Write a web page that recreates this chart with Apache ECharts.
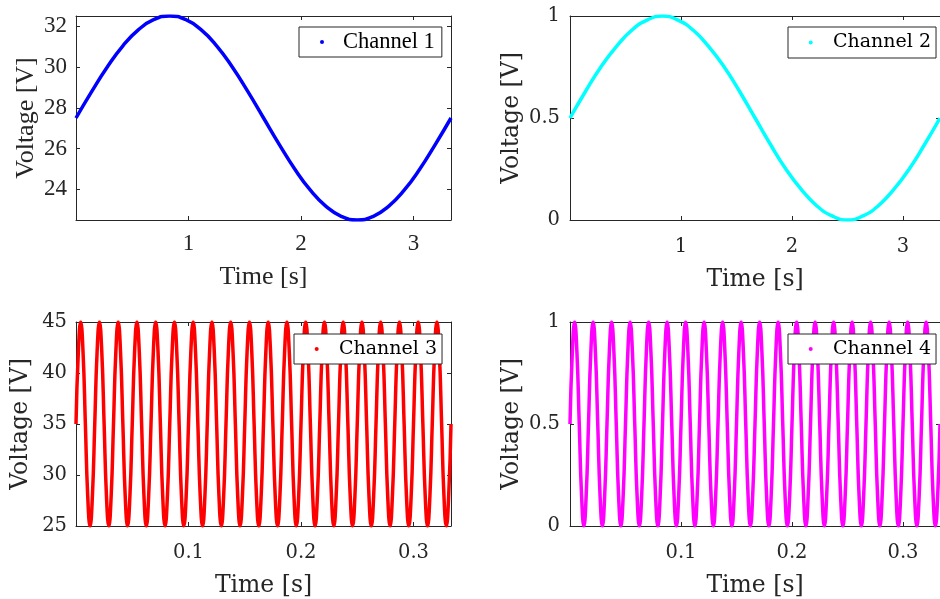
<!DOCTYPE html>
<html>
<head>
<meta charset="utf-8">
<script src="https://cdn.jsdelivr.net/npm/echarts@6/dist/echarts.min.js"></script>
<style>
html,body{margin:0;padding:0;background:#fff;}
#chart{width:940px;height:599px;}
</style>
</head>
<body>
<div id="chart"></div>
<script>
// ---------- data ----------
const seriesNames = ['Channel 1', 'Channel 2', 'Channel 3', 'Channel 4'];

const timeSlow = [0, 0.139, 0.278, 0.417, 0.556, 0.694, 0.833, 0.972, 1.111, 1.25, 1.389, 1.528,
  1.667, 1.806, 1.944, 2.083, 2.222, 2.361, 2.5, 2.639, 2.778, 2.917, 3.056, 3.194, 3.333];

const ch1 = [27.5, 28.79, 30.0, 31.04, 31.83, 32.33, 32.5, 32.33, 31.83, 31.04, 30.0, 28.79,
  27.5, 26.21, 25.0, 23.96, 23.17, 22.67, 22.5, 22.67, 23.17, 23.96, 25.0, 26.21, 27.5];

const ch2 = [0.5, 0.63, 0.75, 0.85, 0.93, 0.98, 1.0, 0.98, 0.93, 0.85, 0.75, 0.63,
  0.5, 0.37, 0.25, 0.15, 0.07, 0.02, 0.0, 0.02, 0.07, 0.15, 0.25, 0.37, 0.5];

const timeFast = [
  0, 0.00208, 0.00417, 0.00625, 0.00833, 0.01042, 0.0125, 0.01458,
  0.01667, 0.01875, 0.02083, 0.02292, 0.025, 0.02708, 0.02917, 0.03125,
  0.03333, 0.03542, 0.0375, 0.03958, 0.04167, 0.04375, 0.04583, 0.04792,
  0.05, 0.05208, 0.05417, 0.05625, 0.05833, 0.06042, 0.0625, 0.06458,
  0.06667, 0.06875, 0.07083, 0.07292, 0.075, 0.07708, 0.07917, 0.08125,
  0.08333, 0.08542, 0.0875, 0.08958, 0.09167, 0.09375, 0.09583, 0.09792,
  0.1, 0.10208, 0.10417, 0.10625, 0.10833, 0.11042, 0.1125, 0.11458,
  0.11667, 0.11875, 0.12083, 0.12292, 0.125, 0.12708, 0.12917, 0.13125,
  0.13333, 0.13542, 0.1375, 0.13958, 0.14167, 0.14375, 0.14583, 0.14792,
  0.15, 0.15208, 0.15417, 0.15625, 0.15833, 0.16042, 0.1625, 0.16458,
  0.16667, 0.16875, 0.17083, 0.17292, 0.175, 0.17708, 0.17917, 0.18125,
  0.18333, 0.18542, 0.1875, 0.18958, 0.19167, 0.19375, 0.19583, 0.19792,
  0.2, 0.20208, 0.20417, 0.20625, 0.20833, 0.21042, 0.2125, 0.21458,
  0.21667, 0.21875, 0.22083, 0.22292, 0.225, 0.22708, 0.22917, 0.23125,
  0.23333, 0.23542, 0.2375, 0.23958, 0.24167, 0.24375, 0.24583, 0.24792,
  0.25, 0.25208, 0.25417, 0.25625, 0.25833, 0.26042, 0.2625, 0.26458,
  0.26667, 0.26875, 0.27083, 0.27292, 0.275, 0.27708, 0.27917, 0.28125,
  0.28333, 0.28542, 0.2875, 0.28958, 0.29167, 0.29375, 0.29583, 0.29792,
  0.3, 0.30208, 0.30417, 0.30625, 0.30833, 0.31042, 0.3125, 0.31458,
  0.31667, 0.31875, 0.32083, 0.32292, 0.325, 0.32708, 0.32917, 0.33125,
  0.33333];

const ch3 = [
  35, 42.07, 45, 42.07, 35, 27.93, 25, 27.93,
  35, 42.07, 45, 42.07, 35, 27.93, 25, 27.93,
  35, 42.07, 45, 42.07, 35, 27.93, 25, 27.93,
  35, 42.07, 45, 42.07, 35, 27.93, 25, 27.93,
  35, 42.07, 45, 42.07, 35, 27.93, 25, 27.93,
  35, 42.07, 45, 42.07, 35, 27.93, 25, 27.93,
  35, 42.07, 45, 42.07, 35, 27.93, 25, 27.93,
  35, 42.07, 45, 42.07, 35, 27.93, 25, 27.93,
  35, 42.07, 45, 42.07, 35, 27.93, 25, 27.93,
  35, 42.07, 45, 42.07, 35, 27.93, 25, 27.93,
  35, 42.07, 45, 42.07, 35, 27.93, 25, 27.93,
  35, 42.07, 45, 42.07, 35, 27.93, 25, 27.93,
  35, 42.07, 45, 42.07, 35, 27.93, 25, 27.93,
  35, 42.07, 45, 42.07, 35, 27.93, 25, 27.93,
  35, 42.07, 45, 42.07, 35, 27.93, 25, 27.93,
  35, 42.07, 45, 42.07, 35, 27.93, 25, 27.93,
  35, 42.07, 45, 42.07, 35, 27.93, 25, 27.93,
  35, 42.07, 45, 42.07, 35, 27.93, 25, 27.93,
  35, 42.07, 45, 42.07, 35, 27.93, 25, 27.93,
  35, 42.07, 45, 42.07, 35, 27.93, 25, 27.93,
  35];

const ch4 = [
  0.5, 0.85, 1, 0.85, 0.5, 0.15, 0, 0.15,
  0.5, 0.85, 1, 0.85, 0.5, 0.15, 0, 0.15,
  0.5, 0.85, 1, 0.85, 0.5, 0.15, 0, 0.15,
  0.5, 0.85, 1, 0.85, 0.5, 0.15, 0, 0.15,
  0.5, 0.85, 1, 0.85, 0.5, 0.15, 0, 0.15,
  0.5, 0.85, 1, 0.85, 0.5, 0.15, 0, 0.15,
  0.5, 0.85, 1, 0.85, 0.5, 0.15, 0, 0.15,
  0.5, 0.85, 1, 0.85, 0.5, 0.15, 0, 0.15,
  0.5, 0.85, 1, 0.85, 0.5, 0.15, 0, 0.15,
  0.5, 0.85, 1, 0.85, 0.5, 0.15, 0, 0.15,
  0.5, 0.85, 1, 0.85, 0.5, 0.15, 0, 0.15,
  0.5, 0.85, 1, 0.85, 0.5, 0.15, 0, 0.15,
  0.5, 0.85, 1, 0.85, 0.5, 0.15, 0, 0.15,
  0.5, 0.85, 1, 0.85, 0.5, 0.15, 0, 0.15,
  0.5, 0.85, 1, 0.85, 0.5, 0.15, 0, 0.15,
  0.5, 0.85, 1, 0.85, 0.5, 0.15, 0, 0.15,
  0.5, 0.85, 1, 0.85, 0.5, 0.15, 0, 0.15,
  0.5, 0.85, 1, 0.85, 0.5, 0.15, 0, 0.15,
  0.5, 0.85, 1, 0.85, 0.5, 0.15, 0, 0.15,
  0.5, 0.85, 1, 0.85, 0.5, 0.15, 0, 0.15,
  0.5];

// tick labels
const xTicksSlow = [1, 2, 3];
const xTicksFast = [0.1, 0.2, 0.3];
const yTicks1 = [24, 26, 28, 30, 32];
const yTicks2 = [0, 0.5, 1];
const yTicks3 = [25, 30, 35, 40, 45];
const yTicks4 = [0, 0.5, 1];
const xLabel = 'Time [s]';
const yLabel = 'Voltage [V]';

// ---------- layout / style ----------
const panels = [
  { grid: {left: 76, top: 16, width: 375, height: 204}, xr: [0, 3.333], yr: [22.5, 32.5],
    xt: xTicksSlow, yt: yTicks1, t: timeSlow, v: ch1, color: '#0000ff',
    font: 'Liberation Serif', tick: 23, nameSize: 26, xGap: 44, yGap: 37, xMargin: 12, yMargin: 9,
    leg: {left: 299, top: 27, size: 22.5, lh: 22, pad: [3.5, 7, 3.5, 21], tpad: 14} },
  { grid: {left: 570, top: 16, width: 375, height: 204}, xr: [0, 3.333], yr: [0, 1],
    xt: xTicksSlow, yt: yTicks2, t: timeSlow, v: ch2, color: '#00ffff',
    font: 'DejaVu Serif', tick: 19.5, nameSize: 23.5, xGap: 48, yGap: 46, xMargin: 17, yMargin: 10,
    leg: {left: 788, top: 27, size: 19, lh: 19, pad: [6, 5, 6, 20.7], tpad: 15.3} },
  { grid: {left: 76, top: 322, width: 375, height: 205}, xr: [0, 0.33333], yr: [25, 45],
    xt: xTicksFast, yt: yTicks3, t: timeFast, v: ch3, color: '#ff0000',
    font: 'DejaVu Serif', tick: 19.5, nameSize: 23.5, xGap: 48, yGap: 43, xMargin: 17, yMargin: 9,
    leg: {left: 294, top: 334, size: 19, lh: 19, pad: [5.5, 5, 5.5, 20.7], tpad: 15.3} },
  { grid: {left: 570, top: 322, width: 375, height: 205}, xr: [0, 0.33333], yr: [0, 1],
    xt: xTicksFast, yt: yTicks4, t: timeFast, v: ch4, color: '#ff00ff',
    font: 'DejaVu Serif', tick: 19.5, nameSize: 23.5, xGap: 48, yGap: 46, xMargin: 17, yMargin: 10,
    leg: {left: 788, top: 334, size: 19, lh: 19, pad: [5.5, 5, 5.5, 20.7], tpad: 15.3} }
];

const axisColor = '#262626';
const grids = [], xAxes = [], yAxes = [], series = [], legends = [];

panels.forEach((p, i) => {
  grids.push(Object.assign({containLabel: false}, p.grid));
  const lineCfg = {show: true, onZero: false, lineStyle: {color: axisColor, width: 1}};
  const tickCfg = (vals) => ({show: true, inside: true, length: 4, customValues: vals,
    lineStyle: {color: axisColor, width: 1}});
  xAxes.push({
    type: 'value', gridIndex: i, position: 'bottom', min: p.xr[0], max: p.xr[1],
    axisLine: lineCfg, axisTick: tickCfg(p.xt), splitLine: {show: false},
    axisLabel: {show: true, customValues: p.xt, margin: p.xMargin, color: axisColor,
      fontFamily: p.font, fontSize: p.tick},
    name: xLabel, nameLocation: 'middle', nameGap: p.xGap,
    nameTextStyle: {color: axisColor, fontFamily: p.font, fontSize: p.nameSize}
  });
  xAxes.push({
    type: 'value', gridIndex: i, position: 'top', min: p.xr[0], max: p.xr[1],
    axisLine: lineCfg, axisTick: tickCfg(p.xt), splitLine: {show: false},
    axisLabel: {show: false}
  });
  yAxes.push({
    type: 'value', gridIndex: i, position: 'left', min: p.yr[0], max: p.yr[1],
    axisLine: lineCfg, axisTick: tickCfg(p.yt), splitLine: {show: false},
    axisLabel: {show: true, customValues: p.yt, margin: p.yMargin, color: axisColor,
      fontFamily: p.font, fontSize: p.tick},
    name: yLabel, nameLocation: 'middle', nameGap: p.yGap, nameRotate: 90,
    nameTextStyle: {color: axisColor, fontFamily: p.font, fontSize: p.nameSize}
  });
  yAxes.push({
    type: 'value', gridIndex: i, position: 'right', min: p.yr[0], max: p.yr[1],
    axisLine: lineCfg, axisTick: tickCfg(p.yt), splitLine: {show: false},
    axisLabel: {show: false}
  });
  series.push({
    name: seriesNames[i], type: 'line', xAxisIndex: 2 * i, yAxisIndex: 2 * i,
    data: p.t.map((t, k) => [t, p.v[k]]),
    smooth: true, showSymbol: false, symbol: 'circle', clip: true,
    lineStyle: {color: p.color, width: 3.5}, itemStyle: {color: p.color},
    animation: false, z: 2
  });
  legends.push({
    data: [seriesNames[i]], left: p.leg.left, top: p.leg.top, orient: 'horizontal',
    icon: 'circle', itemWidth: 4, itemHeight: 4, padding: p.leg.pad,
    backgroundColor: '#ffffff', borderColor: axisColor, borderWidth: 1, borderRadius: 0,
    selectedMode: false, z: 10,
    textStyle: {color: '#000', fontFamily: p.font, fontSize: p.leg.size,
      lineHeight: p.leg.lh, padding: [0, 0, 0, p.leg.tpad]}
  });
});

const chart = echarts.init(document.getElementById('chart'), null, {renderer: 'canvas'});
chart.setOption({
  backgroundColor: '#ffffff',
  animation: false,
  grid: grids, xAxis: xAxes, yAxis: yAxes, series: series, legend: legends
});
</script>
</body>
</html>
